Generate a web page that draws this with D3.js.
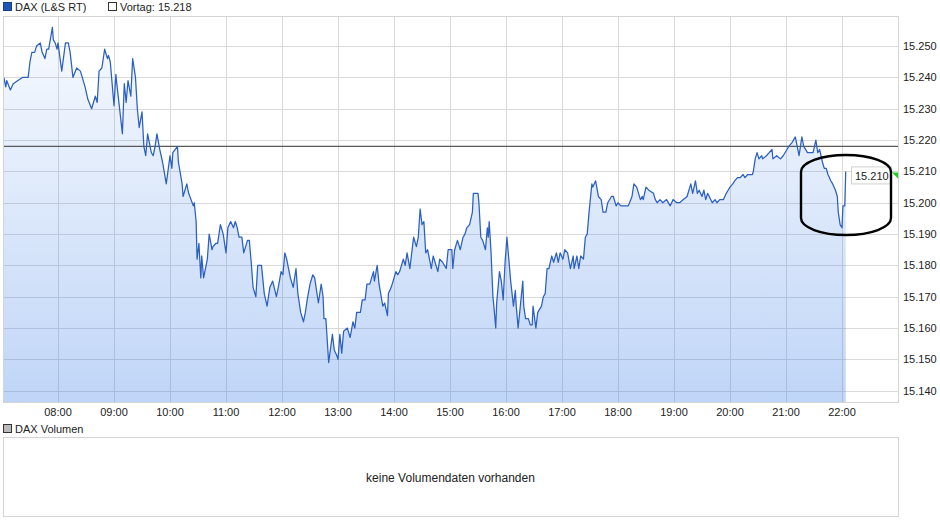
<!DOCTYPE html>
<meta charset="utf-8">
<script src="https://cdn.jsdelivr.net/npm/d3@7"></script>
<style>
body { margin: 0; background: #fff; }
text { font-family: "Liberation Sans", Arial, sans-serif; fill: #222; }
</style>
<body>
<script>
var times = ["07:02","07:04","07:05","07:09","07:12","07:17","07:22","07:28","07:30","07:32","07:35","07:37","07:41","07:43","07:46","07:48","07:50","07:54","07:55","07:57","07:59",
	"08:00","08:04","08:08","08:11","08:13","08:16","08:20","08:24","08:26","08:29","08:32","08:36","08:40","08:42","08:44","08:47","08:50","08:53","08:54","08:56",
	"09:00","09:02","09:03","09:09","09:11","09:13","09:15","09:18","09:20","09:23","09:25","09:27","09:30","09:32","09:34","09:36","09:40","09:42","09:44","09:46","09:49","09:52","09:56",
	"10:00","10:02","10:03","10:08","10:09","10:13","10:14","10:18","10:20","10:25","10:26","10:28","10:29","10:31","10:33","10:34","10:36","10:40","10:42","10:45","10:46","10:49","10:51","10:54","10:57",
	"11:00","11:02","11:05","11:08","11:10","11:12","11:14","11:17","11:19","11:23","11:25","11:27","11:29","11:32","11:34","11:38","11:41","11:44","11:47","11:50","11:54","11:56","11:59",
	"12:01","12:03","12:05","12:09","12:12","12:15","12:17","12:20","12:23","12:25","12:27","12:30","12:33","12:35","12:39","12:42","12:44","12:45","12:47","12:50","12:54","12:56","12:59",
	"13:00","13:02","13:04","13:06","13:10","13:13","13:16","13:18","13:20","13:24","13:26","13:29","13:31","13:34","13:38","13:39","13:42","13:44","13:48","13:50","13:53","13:54","13:57","13:59",
	"14:02","14:04","14:06","14:10","14:12","14:14","14:17","14:21","14:24","14:26","14:28","14:30","14:32","14:34","14:36","14:40","14:42","14:44","14:47","14:49","14:52","14:56","14:58",
	"15:02","15:03","15:05","15:08","15:11","15:14","15:16","15:18","15:21","15:24","15:25","15:28","15:30","15:31","15:33","15:35","15:38","15:40","15:41","15:42","15:44","15:46","15:47","15:49","15:50","15:53","15:55","15:57","15:59",
	"16:01","16:03","16:05","16:08","16:10","16:11","16:13","16:16","16:18","16:19","16:21","16:24","16:26","16:28","16:29","16:32","16:34","16:38","16:40","16:42","16:44","16:46","16:49","16:51","16:54","16:56","16:58",
	"17:01","17:03","17:06","17:09","17:12","17:13","17:16","17:18","17:20","17:23","17:25","17:27","17:29","17:30","17:32","17:33","17:36","17:39","17:42","17:44","17:47","17:49","17:53","17:55","17:58",
	"18:00","18:03","18:08","18:11","18:15","18:17","18:20","18:24","18:26","18:27","18:30","18:33","18:38","18:40","18:42","18:45","18:48","18:52","18:56","18:59",
	"19:03","19:06","19:10","19:14","19:18","19:20","19:23","19:25","19:27","19:30","19:32","19:34","19:36","19:41","19:44","19:46","19:49","19:53","19:56","19:58",
	"20:00","20:03","20:05","20:08","20:11","20:14","20:16","20:19","20:24","20:25","20:27","20:29","20:31","20:34","20:35","20:39","20:42","20:45","20:46","20:50","20:54","20:57",
	"21:01","21:03","21:06","21:10","21:12","21:14","21:17","21:19","21:23","21:27","21:29","21:32","21:34","21:36","21:39","21:41","21:43","21:45","21:48","21:50","21:53","21:55","21:56","21:58",
	"22:00","22:01","22:03","22:04"];

var prices = [15240,15237,15239,15236,15238,15239,15240,15240,15245,15248,15248,15250,15251,15248,15246,15249,15249,15256,15252,15251,15249,
	15251,15242,15251,15251,15248,15240,15243,15242,15240,15237,15233,15230,15234,15232,15242,15243,15249,15246,15247,15245,
	15231,15241,15238,15222,15238,15232,15239,15234,15246,15240,15230,15224,15229,15218,15215,15222,15216,15215,15218,15222,15217,15213,15206,
	15215,15211,15216,15218,15213,15206,15202,15206,15203,15199,15200,15194,15182,15187,15176,15183,15176,15182,15190,15185,15186,15187,15187,15193,15190,
	15184,15192,15194,15192,15194,15192,15189,15189,15184,15188,15188,15181,15173,15170,15180,15180,15171,15167,15173,15175,15170,15173,15178,
	15177,15184,15182,15176,15173,15179,15171,15165,15162,15165,15169,15174,15177,15176,15168,15174,15170,15163,15163,15149,15158,15153,15151,
	15150,15158,15152,15159,15160,15157,15162,15160,15165,15165,15169,15169,15174,15174,15178,15175,15180,15174,15167,15168,15164,15171,15173,15175,
	15178,15177,15178,15182,15180,15184,15179,15189,15186,15189,15198,15193,15194,15184,15185,15179,15183,15181,15178,15182,15181,15179,15185,
	15185,15179,15185,15188,15185,15189,15190,15192,15193,15197,15203,15203,15203,15200,15189,15188,15185,15192,15189,15194,15184,15170,15167,15160,15168,15178,15175,15169,15181,
	15189,15182,15175,15167,15172,15167,15160,15169,15175,15167,15163,15163,15161,15161,15167,15160,15165,15167,15170,15171,15179,15179,15183,15181,15184,15181,15184,
	15182,15185,15184,15179,15183,15179,15183,15179,15183,15182,15189,15190,15197,15200,15206,15205,15207,15202,15201,15197,15197,15200,15202,15202,15199,
	15200,15199,15199,15199,15202,15206,15205,15201,15202,15201,15205,15204,15203,15201,15200,15201,15200,15201,15199,15201,
	15200,15200,15201,15202,15206,15203,15207,15203,15204,15202,15204,15201,15203,15200,15201,15200,15201,15201,15203,15204,
	15205,15206,15207,15208,15208,15209,15208,15209,15209,15210,15214,15216,15214,15215,15214,15215,15216,15217,15214,15215,15214,15215,
	15217,15218,15219,15221,15218,15215,15221,15218,15216,15216,15216,15220,15216,15217,15213,15211,15211,15209,15207,15206,15204,15202,15197,15193,
	15192,15199,15199,15210];

var hourTicks = ["08:00","09:00","10:00","11:00","12:00","13:00","14:00","15:00","16:00","17:00","18:00","19:00","20:00","21:00","22:00"];
var priceTicks = [15140,15150,15160,15170,15180,15190,15200,15210,15220,15230,15240,15250];
var vortag = 15218;
var lastPrice = 15210;
var seriesName = "DAX (L&S RT)",
	volumeName = "DAX Volumen",
	noVolume = "keine Volumendaten vorhanden";

var w = 940, h = 526,
	plotL = 3, plotR = 898, plotT = 16, plotB = 402;

var de = d3.formatLocale({decimal: ",", thousands: ".", grouping: [3], currency: ["", " €"]});
var fmt = de.format(",d");
var parse = d3.timeParse("%H:%M");

var data = times.map(function(t, i) { return {t: parse(t), v: prices[i]}; });

var svg = d3.select("body").append("svg")
	.attr("width", w)
	.attr("height", h);

var x = d3.scaleTime()
	.domain([parse("07:00"), parse("23:00")])
	.range([2, 898]);

var y = d3.scaleLinear()
	.domain([15136.4, 15259.6])
	.range([plotB, plotT]);

var defs = svg.append("defs");
var grad = defs.append("linearGradient")
	.attr("id", "fillGrad")
	.attr("gradientUnits", "userSpaceOnUse")
	.attr("x1", 0).attr("x2", 0)
	.attr("y1", plotT).attr("y2", plotB);
grad.append("stop").attr("offset", "0%").attr("stop-color", "#3278e6").attr("stop-opacity", 0.03);
grad.append("stop").attr("offset", "100%").attr("stop-color", "#3278e6").attr("stop-opacity", 0.31);

defs.append("clipPath").attr("id", "plotClip")
	.append("rect")
	.attr("x", plotL).attr("y", plotT)
	.attr("width", plotR - plotL).attr("height", plotB - plotT);

// legend row
svg.append("rect")
	.attr("x", 3.5).attr("y", 2.5).attr("width", 8).attr("height", 8)
	.style("fill", "#1e56b8").style("stroke", "#1a3f86");
svg.append("text").attr("x", 15).attr("y", 10.5)
	.style("font-size", "11px").text(seriesName);
svg.append("rect")
	.attr("x", 108.5).attr("y", 2.5).attr("width", 8).attr("height", 8)
	.style("fill", "#fff").style("stroke", "#333");
svg.append("text").attr("x", 120).attr("y", 10.5)
	.style("font-size", "11px").text("Vortag: " + fmt(vortag));

// grid
svg.selectAll(".hgrid")
	.data(priceTicks)
	.enter()
	.append("line")
	.attr("x1", plotL).attr("x2", plotR)
	.attr("y1", function(d) { return Math.round(y(d)) + 0.5; })
	.attr("y2", function(d) { return Math.round(y(d)) + 0.5; })
	.style("stroke", "#dadada");

svg.selectAll(".vgrid")
	.data(hourTicks)
	.enter()
	.append("line")
	.attr("x1", function(d) { return Math.round(x(parse(d))) + 0.5; })
	.attr("x2", function(d) { return Math.round(x(parse(d))) + 0.5; })
	.attr("y1", plotT).attr("y2", plotB)
	.style("stroke", "#dadada");

var area = d3.area()
	.x(function(d) { return x(d.t); })
	.y0(plotB)
	.y1(function(d) { return y(d.v); });

var line = d3.line()
	.x(function(d) { return x(d.t); })
	.y(function(d) { return y(d.v); });

var plot = svg.append("g").attr("clip-path", "url(#plotClip)");

plot.append("path")
	.datum(data)
	.attr("d", area)
	.style("fill", "url(#fillGrad)");

plot.append("line")
	.attr("x1", plotL).attr("x2", plotR)
	.attr("y1", y(vortag)).attr("y2", y(vortag))
	.style("stroke", "#5a5a5a")
	.style("stroke-width", 1.1);

plot.append("path")
	.datum(data)
	.attr("d", line)
	.style("fill", "none")
	.style("stroke", "#2a5fc4")
	.style("stroke-width", 1.25)
	.style("stroke-linejoin", "round");

// panel border
svg.append("rect")
	.attr("x", plotL + 0.5).attr("y", plotT + 0.5)
	.attr("width", plotR - plotL).attr("height", plotB - plotT)
	.style("fill", "none").style("stroke", "#d4d4d4");

// axes labels
svg.selectAll(".ylabel")
	.data(priceTicks)
	.enter()
	.append("text")
	.attr("x", 903)
	.attr("y", function(d) { return y(d) + 4; })
	.style("font-size", "11px")
	.text(function(d) { return fmt(d); });

svg.selectAll(".xlabel")
	.data(hourTicks)
	.enter()
	.append("text")
	.attr("x", function(d) { return x(parse(d)); })
	.attr("y", 416)
	.style("font-size", "11px")
	.style("text-anchor", "middle")
	.text(function(d) { return d; });

// last price box
var ly = y(lastPrice);
svg.append("rect")
	.attr("x", 851.5).attr("y", ly - 4.5)
	.attr("width", 40).attr("height", 17)
	.style("fill", "#fff").style("stroke", "#d0d0d0");
svg.append("text")
	.attr("x", 855).attr("y", ly + 8.5)
	.style("font-size", "11px")
	.text(fmt(lastPrice));
svg.append("path")
	.attr("d", "M892," + (ly + 1) + "L898," + (ly + 1) + "L898," + (ly + 7) + "Z")
	.style("fill", "#22cc22");

// hand drawn marker
svg.append("path")
	.attr("d", "M801,172 A45,17 0 0 1 891,172 L891,218 A45,17 0 0 1 801,218 Z")
	.style("fill", "none")
	.style("stroke", "#000")
	.style("stroke-width", 2.4);

// volume panel
svg.append("rect")
	.attr("x", 3.5).attr("y", 424.5).attr("width", 8).attr("height", 8)
	.style("fill", "#bbb").style("stroke", "#333");
svg.append("text").attr("x", 15).attr("y", 432.5)
	.style("font-size", "11px").text(volumeName);
svg.append("rect")
	.attr("x", plotL + 0.5).attr("y", 437.5)
	.attr("width", plotR - plotL).attr("height", 79)
	.style("fill", "none").style("stroke", "#d4d4d4");
svg.append("text")
	.attr("x", (plotL + plotR) / 2).attr("y", 482)
	.style("font-size", "12px")
	.style("text-anchor", "middle")
	.text(noVolume);
</script>
</body>
</html>
